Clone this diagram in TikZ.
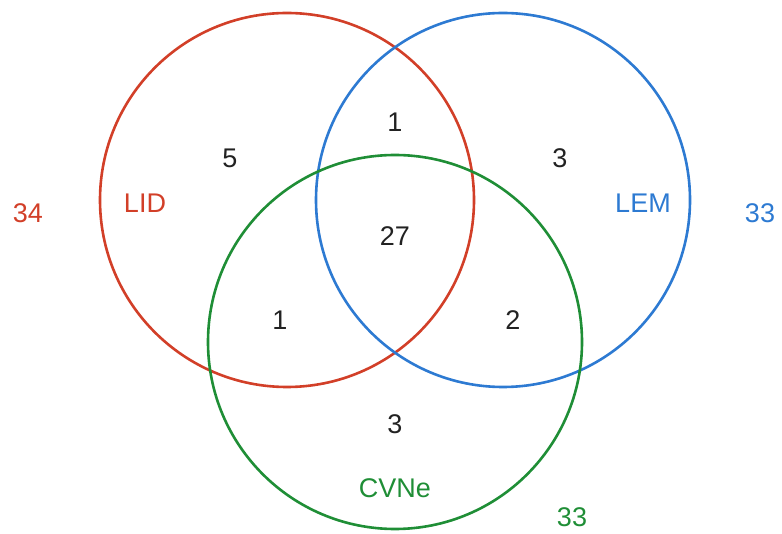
\documentclass[tikz,border=0pt]{standalone}
\usepackage{fontspec}
\setmainfont{Liberation Sans}
\definecolor{lidred}{HTML}{D23F28}
\definecolor{lemblue}{HTML}{2D7AD2}
\definecolor{cvgreen}{HTML}{1F8E36}
\definecolor{numgray}{HTML}{222222}
\begin{document}
\begin{tikzpicture}[x=1pt,y=-1pt,
  setring/.style={line width=2.6pt},
  lbl/.style={font=\fontsize{27}{27}\selectfont, inner sep=0pt, anchor=center},
  cnt/.style={lbl, text=numgray}]
\useasboundingbox (0,0) rectangle (782,534);
% the three sets
\draw[setring, lidred] (287,200) circle[radius=187];
\draw[setring, lemblue] (503,200) circle[radius=187];
\draw[setring, cvgreen] (395,342) circle[radius=187];
% set names and totals
\node[lbl, text=lidred] (lid) at (145,203) {LID};
\node[lbl, text=lidred] (lidtot) at (28,213) {34};
\node[lbl, text=lemblue] (lem) at (643,203) {LEM};
\node[lbl, text=lemblue] (lemtot) at (760,213) {33};
\node[lbl, text=cvgreen] (cvne) at (395,488) {CVNe};
\node[lbl, text=cvgreen] (cvtot) at (572,517) {33};
% region counts
\node[cnt] (onlylid) at (230,158) {5};
\node[cnt] (lidlem) at (395,122) {1};
\node[cnt] (onlylem) at (560,158) {3};
\node[cnt] (all) at (395,236) {27};
\node[cnt] (lidcv) at (280,320) {1};
\node[cnt] (lemcv) at (513,320) {2};
\node[cnt] (onlycv) at (395,424) {3};
\end{tikzpicture}
\end{document}
